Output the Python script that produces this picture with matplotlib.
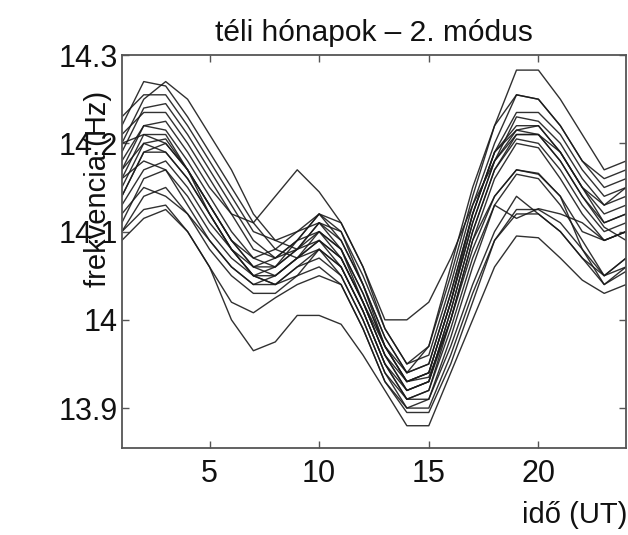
import matplotlib
matplotlib.use("Agg")
import matplotlib.pyplot as plt
import numpy as np

plt.rcParams['font.family'] = ['Liberation Sans', 'DejaVu Sans']

hours = list(range(1, 25))

c01 = [14.22, 14.27, 14.265, 14.23, 14.19, 14.15, 14.11, 14.08, 14.07, 14.09, 14.07, 14.02, 13.97, 13.94, 13.97, 14.06, 14.15, 14.22, 14.255, 14.25, 14.22, 14.18, 14.15, 14.16]
c02 = [14.20, 14.25, 14.27, 14.25, 14.21, 14.17, 14.12, 14.09, 14.08, 14.11, 14.10, 14.05, 13.99, 13.95, 13.97, 14.05, 14.14, 14.22, 14.283, 14.283, 14.25, 14.21, 14.17, 14.18]
c03 = [14.23, 14.255, 14.255, 14.22, 14.18, 14.14, 14.10, 14.09, 14.10, 14.12, 14.11, 14.06, 13.99, 13.95, 13.96, 14.04, 14.13, 14.20, 14.255, 14.25, 14.22, 14.18, 14.16, 14.17]
c04 = [14.19, 14.24, 14.245, 14.21, 14.17, 14.13, 14.09, 14.07, 14.09, 14.12, 14.09, 14.04, 13.98, 13.94, 13.95, 14.03, 14.12, 14.19, 14.235, 14.235, 14.21, 14.17, 14.14, 14.15]
c05 = [14.21, 14.235, 14.235, 14.20, 14.16, 14.12, 14.08, 14.07, 14.08, 14.10, 14.08, 14.03, 13.97, 13.93, 13.94, 14.02, 14.11, 14.18, 14.23, 14.225, 14.20, 14.16, 14.13, 14.14]
c06 = [14.17, 14.22, 14.225, 14.19, 14.15, 14.12, 14.11, 14.14, 14.17, 14.145, 14.11, 14.06, 14.00, 14.00, 14.02, 14.07, 14.13, 14.18, 14.21, 14.21, 14.19, 14.15, 14.13, 14.15]
c07 = [14.18, 14.22, 14.215, 14.18, 14.14, 14.10, 14.07, 14.06, 14.08, 14.11, 14.09, 14.04, 13.97, 13.93, 13.94, 14.02, 14.12, 14.19, 14.22, 14.22, 14.19, 14.15, 14.12, 14.13]
c08 = [14.16, 14.21, 14.21, 14.17, 14.13, 14.09, 14.06, 14.06, 14.09, 14.12, 14.10, 14.04, 13.98, 13.94, 13.95, 14.03, 14.12, 14.19, 14.215, 14.22, 14.19, 14.15, 14.11, 14.12]
c09 = [14.20, 14.21, 14.20, 14.17, 14.13, 14.09, 14.06, 14.05, 14.07, 14.10, 14.08, 14.02, 13.96, 13.92, 13.93, 14.01, 14.10, 14.17, 14.21, 14.21, 14.18, 14.14, 14.11, 14.12]
c10 = [14.15, 14.20, 14.205, 14.17, 14.12, 14.08, 14.05, 14.05, 14.07, 14.09, 14.07, 14.02, 13.96, 13.92, 13.93, 14.01, 14.10, 14.17, 14.205, 14.20, 14.17, 14.13, 14.10, 14.11]
c11 = [14.14, 14.19, 14.19, 14.16, 14.12, 14.08, 14.05, 14.04, 14.06, 14.08, 14.06, 14.01, 13.95, 13.92, 13.93, 14.00, 14.09, 14.16, 14.20, 14.195, 14.16, 14.12, 14.09, 14.10]
c12 = [14.13, 14.17, 14.18, 14.15, 14.11, 14.08, 14.06, 14.07, 14.09, 14.10, 14.07, 14.02, 13.96, 13.93, 13.935, 14.00, 14.08, 14.14, 14.17, 14.165, 14.14, 14.10, 14.09, 14.10]
c13 = [14.16, 14.18, 14.17, 14.14, 14.10, 14.07, 14.05, 14.06, 14.08, 14.09, 14.06, 14.01, 13.95, 13.91, 13.92, 13.99, 14.07, 14.13, 14.165, 14.16, 14.13, 14.09, 14.05, 14.07]
c14 = [14.11, 14.16, 14.17, 14.13, 14.09, 14.06, 14.04, 14.05, 14.07, 14.08, 14.05, 14.00, 13.94, 13.91, 13.91, 13.98, 14.06, 14.13, 14.115, 14.126, 14.12, 14.11, 14.09, 14.10]
c15 = [14.12, 14.15, 14.14, 14.12, 14.09, 14.06, 14.04, 14.04, 14.06, 14.07, 14.05, 14.00, 13.94, 13.90, 13.91, 13.97, 14.04, 14.10, 14.14, 14.12, 14.10, 14.07, 14.04, 14.06]
c16 = [14.10, 14.14, 14.15, 14.12, 14.08, 14.05, 14.03, 14.03, 14.05, 14.06, 14.04, 13.99, 13.93, 13.90, 13.90, 13.96, 14.03, 14.09, 14.125, 14.125, 14.11, 14.08, 14.05, 14.07]
c17 = [14.10, 14.125, 14.13, 14.10, 14.06, 14.02, 14.008, 14.025, 14.04, 14.05, 14.04, 13.99, 13.93, 13.895, 13.895, 13.95, 14.02, 14.09, 14.12, 14.12, 14.10, 14.07, 14.05, 14.06]
c18 = [14.09, 14.115, 14.125, 14.10, 14.06, 14.00, 13.965, 13.975, 14.005, 14.005, 13.995, 13.96, 13.92, 13.88, 13.88, 13.94, 14.00, 14.06, 14.095, 14.093, 14.07, 14.045, 14.03, 14.04]
c19 = [14.14, 14.19, 14.20, 14.17, 14.13, 14.09, 14.07, 14.08, 14.10, 14.11, 14.08, 14.03, 13.97, 13.93, 13.94, 14.02, 14.11, 14.18, 14.215, 14.21, 14.18, 14.14, 14.105, 14.09]
c20 = [14.17, 14.20, 14.19, 14.16, 14.12, 14.08, 14.05, 14.04, 14.05, 14.08, 14.06, 14.01, 13.95, 13.91, 13.92, 14.00, 14.09, 14.14, 14.17, 14.166, 14.14, 14.08, 14.04, 14.055]

series = [c01, c02, c03, c04, c05, c06, c07, c08, c09, c10,
          c11, c12, c13, c14, c15, c16, c17, c18, c19, c20]

xticks = [5, 10, 15, 20]
yticks = [13.9, 14.0, 14.1, 14.2, 14.3]
yticklabels = ['13.9', '14', '14.1', '14.2', '14.3']

fig = plt.figure(figsize=(6.28, 5.35), dpi=100)
ax = fig.add_axes([0.194, 0.163, 0.803, 0.734])

for s in series:
    ax.plot(hours, s, color='#1a1a1a', lw=1.0, alpha=0.9)

ax.set_xlim(1, 24)
ax.set_ylim(13.855, 14.3)
ax.set_xticks(xticks)
ax.set_xticklabels([str(t) for t in xticks])
ax.set_yticks(yticks)
ax.set_yticklabels(yticklabels)

for sp in ax.spines.values():
    sp.set_color('#555555')
    sp.set_linewidth(1.3)
ax.tick_params(direction='in', length=5, width=1.0, color='#555555',
               top=True, right=True, labelsize=22, labelcolor='#111111')
ax.tick_params(axis='y', pad=3)
ax.tick_params(axis='x', pad=8)

ax.set_title('téli hónapok – 2. módus', fontsize=21.5, pad=10, color='#111111')
ax.set_ylabel('frekvencia (Hz)', fontsize=21, color='#111111')
ax.yaxis.set_label_coords(-0.02, 0.66)
fig.text(0.999, 0.012, 'idő (UT)', ha='right', va='bottom', fontsize=21, color='#111111')

fig.savefig('out.png', dpi=100)
